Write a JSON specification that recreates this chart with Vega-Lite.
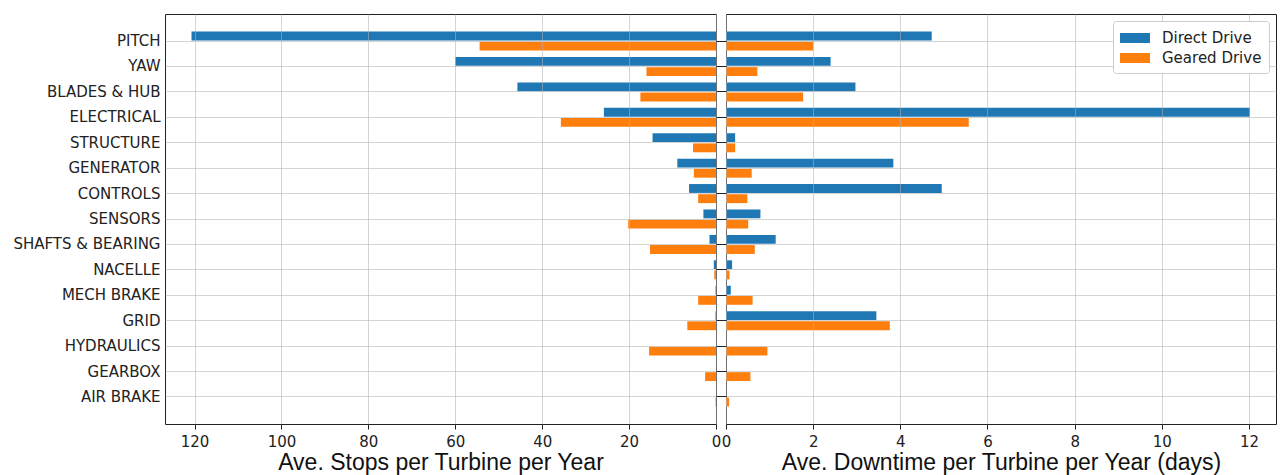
{
  "$schema": "https://vega.github.io/schema/vega-lite/v6.json",
  "padding": {"left": 12, "top": 13, "right": 0, "bottom": 0},
  "background": "white",
  "datasets": {
    "failures": [
      {"component": "PITCH", "drive": "Direct Drive", "stops": 120.7, "downtime": 4.72},
      {"component": "PITCH", "drive": "Geared Drive", "stops": 54.4, "downtime": 2.0},
      {"component": "YAW", "drive": "Direct Drive", "stops": 60.0, "downtime": 2.4},
      {"component": "YAW", "drive": "Geared Drive", "stops": 16.0, "downtime": 0.72},
      {"component": "BLADES & HUB", "drive": "Direct Drive", "stops": 45.7, "downtime": 2.97},
      {"component": "BLADES & HUB", "drive": "Geared Drive", "stops": 17.4, "downtime": 1.77},
      {"component": "ELECTRICAL", "drive": "Direct Drive", "stops": 25.8, "downtime": 12.02},
      {"component": "ELECTRICAL", "drive": "Geared Drive", "stops": 35.7, "downtime": 5.57},
      {"component": "STRUCTURE", "drive": "Direct Drive", "stops": 14.6, "downtime": 0.21},
      {"component": "STRUCTURE", "drive": "Geared Drive", "stops": 5.3, "downtime": 0.21},
      {"component": "GENERATOR", "drive": "Direct Drive", "stops": 8.9, "downtime": 3.84},
      {"component": "GENERATOR", "drive": "Geared Drive", "stops": 5.1, "downtime": 0.59},
      {"component": "CONTROLS", "drive": "Direct Drive", "stops": 6.2, "downtime": 4.95},
      {"component": "CONTROLS", "drive": "Geared Drive", "stops": 4.1, "downtime": 0.49},
      {"component": "SENSORS", "drive": "Direct Drive", "stops": 2.9, "downtime": 0.79},
      {"component": "SENSORS", "drive": "Geared Drive", "stops": 20.2, "downtime": 0.51},
      {"component": "SHAFTS & BEARING", "drive": "Direct Drive", "stops": 1.5, "downtime": 1.14},
      {"component": "SHAFTS & BEARING", "drive": "Geared Drive", "stops": 15.2, "downtime": 0.66},
      {"component": "NACELLE", "drive": "Direct Drive", "stops": 0.5, "downtime": 0.14},
      {"component": "NACELLE", "drive": "Geared Drive", "stops": 0.4, "downtime": 0.08},
      {"component": "MECH BRAKE", "drive": "Direct Drive", "stops": 0.1, "downtime": 0.11},
      {"component": "MECH BRAKE", "drive": "Geared Drive", "stops": 4.1, "downtime": 0.61},
      {"component": "GRID", "drive": "Direct Drive", "stops": 0.1, "downtime": 3.45},
      {"component": "GRID", "drive": "Geared Drive", "stops": 6.6, "downtime": 3.76},
      {"component": "HYDRAULICS", "drive": "Direct Drive", "stops": 0.0, "downtime": 0.0},
      {"component": "HYDRAULICS", "drive": "Geared Drive", "stops": 15.4, "downtime": 0.95},
      {"component": "GEARBOX", "drive": "Direct Drive", "stops": 0.0, "downtime": 0.0},
      {"component": "GEARBOX", "drive": "Geared Drive", "stops": 2.5, "downtime": 0.56},
      {"component": "AIR BRAKE", "drive": "Direct Drive", "stops": 0.0, "downtime": 0.0},
      {"component": "AIR BRAKE", "drive": "Geared Drive", "stops": 0.1, "downtime": 0.07}
    ]
  },
  "data": {"name": "failures"},
  "spacing": 10,
  "bounds": "flush",
  "resolve": {"legend": {"color": "independent"}, "scale": {"color": "shared"}},
  "hconcat": [
    {
      "width": 551,
      "height": 410,
      "mark": {"type": "bar"},
      "encoding": {
        "y": {
          "field": "component",
          "type": "nominal",
          "sort": ["PITCH", "YAW", "BLADES & HUB", "ELECTRICAL", "STRUCTURE", "GENERATOR", "CONTROLS", "SENSORS", "SHAFTS & BEARING", "NACELLE", "MECH BRAKE", "GRID", "HYDRAULICS", "GEARBOX", "AIR BRAKE"],
          "scale": {"paddingInner": 0.25, "paddingOuter": 0.69},
          "axis": {"title": null, "ticks": false, "labelPadding": 5, "bandPosition": 0.5, "grid": true, "zindex": 1}
        },
        "yOffset": {
          "field": "drive",
          "type": "nominal",
          "sort": ["Direct Drive", "Geared Drive"],
          "scale": {"paddingInner": 0.13, "paddingOuter": 0}
        },
        "x": {
          "field": "stops",
          "type": "quantitative",
          "scale": {"domain": [0, 126.8], "reverse": true, "nice": false},
          "axis": {
            "title": "Ave. Stops per Turbine per Year",
            "values": [0, 20, 40, 60, 80, 100, 120],
            "grid": true,
            "zindex": 1
          }
        },
        "color": {
          "field": "drive",
          "type": "nominal",
          "scale": {"domain": ["Direct Drive", "Geared Drive"], "range": ["#1f77b4", "#ff7f0e"]},
          "legend": null
        }
      }
    },
    {
      "width": 550,
      "height": 410,
      "mark": {"type": "bar"},
      "encoding": {
        "y": {
          "field": "component",
          "type": "nominal",
          "sort": ["PITCH", "YAW", "BLADES & HUB", "ELECTRICAL", "STRUCTURE", "GENERATOR", "CONTROLS", "SENSORS", "SHAFTS & BEARING", "NACELLE", "MECH BRAKE", "GRID", "HYDRAULICS", "GEARBOX", "AIR BRAKE"],
          "scale": {"paddingInner": 0.25, "paddingOuter": 0.69},
          "axis": {"title": null, "labels": false, "ticks": true, "tickSize": 10, "bandPosition": 0.5, "grid": true, "zindex": 1}
        },
        "yOffset": {
          "field": "drive",
          "type": "nominal",
          "sort": ["Direct Drive", "Geared Drive"],
          "scale": {"paddingInner": 0.13, "paddingOuter": 0}
        },
        "x": {
          "field": "downtime",
          "type": "quantitative",
          "scale": {"domain": [0, 12.62], "nice": false},
          "axis": {
            "title": "Ave. Downtime per Turbine per Year (days)",
            "values": [0, 2, 4, 6, 8, 10, 12],
            "grid": true,
            "zindex": 1
          }
        },
        "color": {
          "field": "drive",
          "type": "nominal",
          "scale": {"domain": ["Direct Drive", "Geared Drive"], "range": ["#1f77b4", "#ff7f0e"]},
          "legend": {
            "title": null,
            "orient": "top-right",
            "offset": 7,
            "zindex": 2,
            "fillColor": "white",
            "strokeColor": "#cccccc",
            "cornerRadius": 3,
            "padding": 7,
            "rowPadding": 2,
            "symbolType": "M-1,-0.5H2V0.5H-1Z",
            "symbolSize": 400,
            "symbolStrokeWidth": 0,
            "symbolOpacity": 1,
            "labelOffset": 22,
            "labelFont": "DejaVu Sans",
            "labelFontSize": 15,
            "labelColor": "#222222"
          }
        }
      }
    }
  ],
  "config": {
    "view": {"stroke": "#222222", "strokeWidth": 1},
    "axis": {
      "domain": false,
      "gridColor": "#b0b0b0",
      "gridOpacity": 0.55,
      "gridWidth": 1,
      "tickColor": "#222222",
      "tickSize": 5,
      "labelPadding": 5,
      "labelFont": "DejaVu Sans",
      "labelFontSize": 15,
      "labelColor": "#222222",
      "titleFont": "Liberation Sans",
      "titleFontSize": 23,
      "titleFontWeight": "normal",
      "titleColor": "#111111",
      "titlePadding": 2
    },
    "axisX": {"labelFlush": false, "labelOverlap": false}
  }
}
